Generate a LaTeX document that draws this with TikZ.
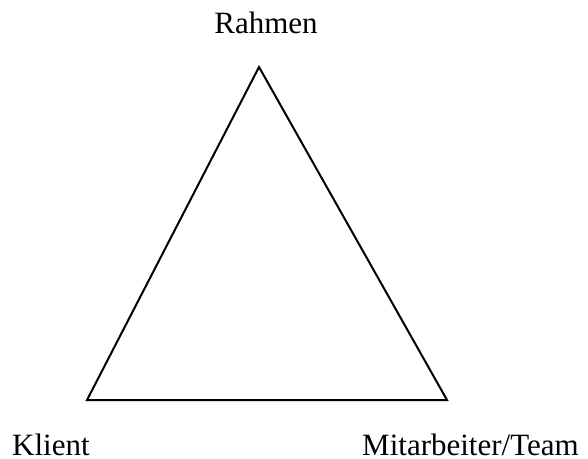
\documentclass[tikz,border=0pt]{standalone}
\usepackage{fontspec}
\setmainfont{Liberation Serif}
\begin{document}
\begin{tikzpicture}[x=1pt,y=-1pt,
  lbl/.style={inner sep=0pt,font=\fontsize{31}{36}\selectfont},
  edge/.style={line width=2pt,line join=miter}]
\useasboundingbox (0,0) rectangle (588,458);
\coordinate (top) at (259,67);
\coordinate (bl) at (87,400);
\coordinate (br) at (447,400);
\draw[edge] (top) -- (bl) -- (br) -- cycle;
\node[lbl,anchor=base] (rahmen) at (266,33) {Rahmen};
\node[lbl,anchor=base west] (klient) at (12,455) {Klient};
\node[lbl,anchor=base west] (team) at (362,455) {Mitarbeiter/Team};
\end{tikzpicture}
\end{document}
